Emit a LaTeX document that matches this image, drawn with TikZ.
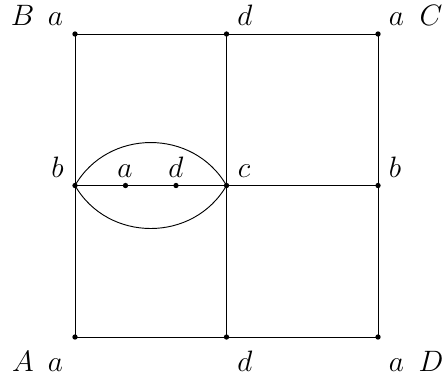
\documentclass[tikz,border=0pt]{standalone}
\usepackage{amsmath}
\usepackage{tikz}
\usetikzlibrary{positioning,calc}

\begin{document}
\begin{tikzpicture}[
  x=1.3cm,y=1.3cm,
  dot/.style={circle,fill,inner sep=0pt,minimum size=2.6pt},
  lbl/.style={anchor=base,inner sep=0pt,font=\Large},
  edge/.style={line width=0.45pt}
]
\useasboundingbox (-0.99,-0.554) rectangle (4.871,4.449);
% points of the square
\node[dot] (pA) at (0,0) {};
\node[dot] (pB) at (0,4) {};
\node[dot] (pC) at (4,4) {};
\node[dot] (pD) at (4,0) {};
\node[dot] (pT) at (2,4) {};
\node[dot] (pS) at (2,0) {};
\node[dot] (pL) at (0,2) {};
\node[dot] (pM) at (2,2) {};
\node[dot] (pR) at (4,2) {};
\node[dot] (la) at (2/3,2) {};
\node[dot] (ld) at (4/3,2) {};
% edges
\draw[edge] (pA.center)--(pB.center)--(pC.center)--(pD.center)--cycle;
\draw[edge] (pS.center)--(pT.center);
\draw[edge] (pL.center)--(pR.center);
\draw[edge] (pL.center) to[out=60,in=120,looseness=1.12] (pM.center);
\draw[edge] (pL.center) to[out=-60,in=-120,looseness=1.12] (pM.center);
% labels
\node[lbl] (tB) at (-0.693,4.106) {$B$};
\node[lbl] (tBa) at (-0.257,4.106) {$a$};
\node[lbl] (tTd) at (2.244,4.106) {$d$};
\node[lbl] (tCa) at (4.244,4.106) {$a$};
\node[lbl] (tC) at (4.70,4.106) {$C$};
\node[lbl] (tA) at (-0.686,-0.449) {$A$};
\node[lbl] (tAa) at (-0.257,-0.449) {$a$};
\node[lbl] (tSd) at (2.244,-0.449) {$d$};
\node[lbl] (tDa) at (4.244,-0.449) {$a$};
\node[lbl] (tD) at (4.70,-0.449) {$D$};
\node[lbl] (tLb) at (-0.231,2.112) {$b$};
\node[lbl] (tla) at (0.66,2.112) {$a$};
\node[lbl] (tld) at (1.333,2.112) {$d$};
\node[lbl] (tMc) at (2.231,2.112) {$c$};
\node[lbl] (tRb) at (4.224,2.112) {$b$};
\end{tikzpicture}
\end{document}
